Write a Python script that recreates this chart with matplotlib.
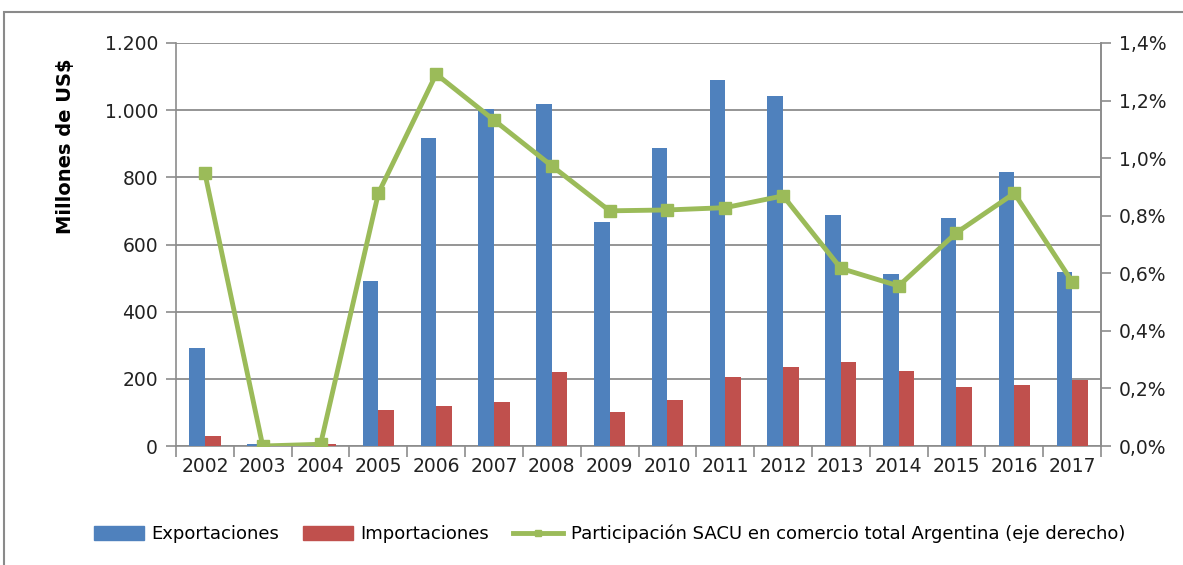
import matplotlib
matplotlib.use("Agg")
import matplotlib.pyplot as plt
import numpy as np
from matplotlib.ticker import FuncFormatter, FixedLocator
from matplotlib.patches import Rectangle
from matplotlib.lines import Line2D

years = ["2002", "2003", "2004", "2005", "2006", "2007", "2008", "2009",
         "2010", "2011", "2012", "2013", "2014", "2015", "2016", "2017"]
exportaciones = [293, 7, 2, 492, 918, 1003, 1017, 667, 887, 1090, 1042, 688, 512, 680, 817, 518]
importaciones = [31, 1, 7, 106, 118, 131, 219, 100, 138, 205, 236, 249, 224, 175, 181, 196]
participacion = [0.947, 0.0, 0.006, 0.878, 1.292, 1.132, 0.973, 0.817,
                 0.820, 0.828, 0.869, 0.617, 0.556, 0.741, 0.878, 0.571]

legend_labels = ["Exportaciones", "Importaciones",
                 "Participación SACU en comercio total Argentina (eje derecho)"]

c_blue = "#4F81BD"
c_red = "#C0504D"
c_green = "#9BBB59"
c_grid = "#8C8C8C"

fig = plt.figure(figsize=(11.83, 5.65), dpi=100)
ax = fig.add_axes([0.1488, 0.2106, 0.9307 - 0.1488, 0.9239 - 0.2106])

x = np.arange(len(years))
w = 0.27
ax.bar(x - w / 2, exportaciones, width=w, color=c_blue, zorder=3)
ax.bar(x + w / 2, importaciones, width=w, color=c_red, zorder=3)

ax.set_xlim(-0.5, len(years) - 0.5)
ax.set_ylim(0, 1200)
ax.set_yticks(np.arange(0, 1201, 200))
ax.yaxis.set_major_formatter(FuncFormatter(lambda v, p: f"{int(v):,}".replace(",", ".")))
ax.grid(axis="y", color=c_grid, linewidth=1.3, zorder=0)
ax.set_axisbelow(True)

ax.set_xticks(x)
ax.set_xticklabels(years)
ax.xaxis.set_minor_locator(FixedLocator(np.arange(-0.5, len(years), 1.0)))
ax.tick_params(axis="x", which="major", length=0, labelsize=13.5, pad=8, colors="#222222")
ax.tick_params(axis="x", which="minor", length=8, width=1.2, color=c_grid, direction="out")
ax.tick_params(axis="y", length=7, width=1.2, color=c_grid, labelsize=13.5, pad=6, labelcolor="#222222")

ax.spines["top"].set_visible(False)
for s in ["left", "bottom", "right"]:
    ax.spines[s].set_color(c_grid)
    ax.spines[s].set_linewidth(1.2)

ax.set_ylabel("Millones de US$", fontsize=14, fontweight="bold")
ax.yaxis.set_label_coords(-0.109, 0.745)

ax2 = ax.twinx()
ax2.plot(x, participacion, color=c_green, linewidth=3.5, marker="s",
         markersize=9, markerfacecolor=c_green, markeredgecolor=c_green, zorder=5)
ax2.set_ylim(0, 1.4)
ax2.set_yticks(np.arange(0, 1.41, 0.2))
ax2.yaxis.set_major_formatter(FuncFormatter(lambda v, p: f"{v:.1f}%".replace(".", ",")))
ax2.tick_params(axis="y", length=7, width=1.2, color=c_grid, labelsize=13.5, pad=6, labelcolor="#222222")
for s in ["top", "left", "bottom"]:
    ax2.spines[s].set_visible(False)
ax2.spines["right"].set_color(c_grid)
ax2.spines["right"].set_linewidth(1.2)

handles = [Rectangle((0, 0), 1, 1, color=c_blue),
           Rectangle((0, 0), 1, 1, color=c_red),
           Line2D([0], [0], color=c_green, linewidth=3.5, marker="s", markersize=5)]
leg = fig.legend(handles, legend_labels, loc="center", bbox_to_anchor=(0.515, 0.055),
                 ncol=3, frameon=False, handlelength=2.8, handleheight=0.8,
                 columnspacing=1.3, handletextpad=0.4,
                 prop={"family": ["DejaVu Sans"], "size": 13})

fig.patches.append(Rectangle((0.0034, -0.05), 1.1, 0.979 + 0.05, transform=fig.transFigure,
                             fill=False, edgecolor="#8A8A8A", linewidth=1.5))

fig.savefig("out.png", dpi=100)
